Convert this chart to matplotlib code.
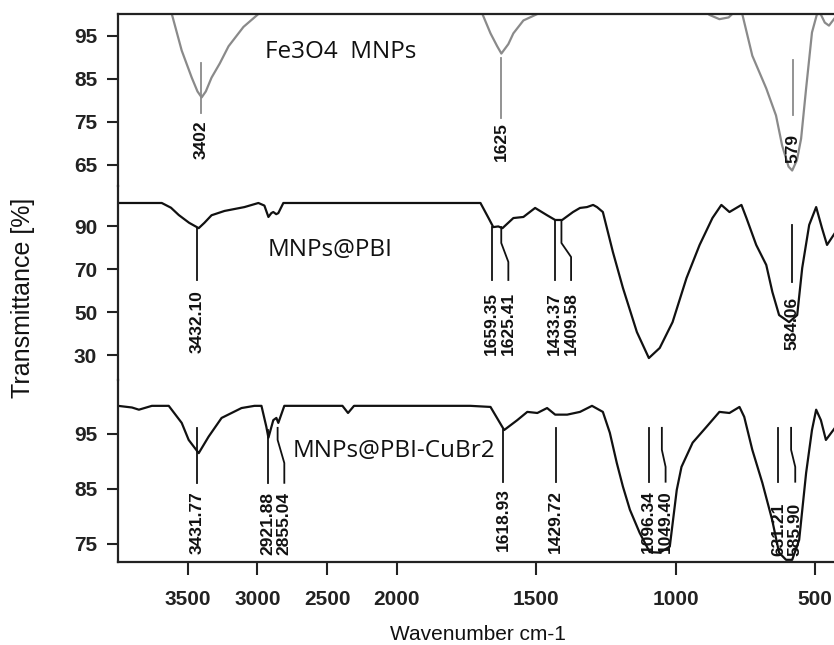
import numpy as np
import matplotlib
matplotlib.use("Agg")
import matplotlib.pyplot as plt

# ---------------- data ----------------
fe_wn = [4000, 3640, 3614, 3543, 3471, 3430, 3400, 3370, 3329, 3270, 3207, 3100, 2993, 2960,
         1720, 1693, 1664, 1640, 1625, 1600, 1582, 1546, 1496, 1470,
         900, 879, 843, 810, 797, 775, 761, 725, 675, 640, 618, 595, 582, 565, 550, 532, 511,
         493, 480, 465, 450, 430]
fe_t = [101, 101, 100, 91.5, 85.2, 82, 80.6, 82, 85.2, 88.5, 92.5, 97, 100, 101,
        101, 100, 95.5, 92.5, 90.8, 93, 95.5, 98.5, 100, 101,
        101, 99.8, 98.8, 99.2, 100, 101, 100, 90.3, 82.7, 76.4, 69.4, 64.5, 63.6, 66, 71, 82.7, 95.7,
        100, 100, 98, 97.3, 99]

pbi_wn = [4000, 3686, 3620, 3564, 3490, 3421, 3380, 3329, 3236, 3093, 2993, 2950, 2921, 2900,
          2886, 2865, 2850, 2814, 1700, 1671, 1654, 1636, 1621, 1582, 1546, 1504, 1461, 1432,
          1407, 1368, 1343, 1318, 1296, 1282, 1261, 1225, 1189, 1139, 1096, 1057, 1011, 961,
          914, 868, 836, 807, 764, 746, 711, 675, 653, 629, 593, 564, 546, 521, 496, 475, 457, 430]
pbi_t = [100.7, 100.7, 98.5, 95.1, 91.5, 89, 91.5, 95, 97, 98.8, 100.7, 99.5, 94.2, 96,
         96.5, 95.5, 96, 100.7, 100.7, 93.7, 89.5, 89.8, 89, 93.7, 94.2, 98.4, 95, 92.8,
         92.8, 96.5, 98.4, 98.8, 99.8, 98.8, 96.5, 77.9, 61.2, 40.7, 28.6, 33.3, 45.3, 65.8,
         81.2, 93.7, 99.8, 96.5, 99.8, 93.7, 81.2, 71.9, 59.3, 48.6, 45.3, 48.6, 70.5, 90.5,
         98.8, 89, 81.2, 86.5]

cu_wn = [4000, 3900, 3850, 3757, 3636, 3543, 3493, 3421, 3350, 3257, 3114, 3021, 2971, 2936,
         2921, 2886, 2864, 2850, 2807, 2390, 2350, 2307, 1736, 1664, 1636, 1615, 1568, 1532,
         1496, 1461, 1432, 1389, 1343, 1300, 1261, 1236, 1211, 1189, 1164, 1129, 1093, 1057,
         1021, 996, 979, 939, 889, 843, 807, 771, 754, 725, 689, 654, 629, 604, 582, 557, 532,
         511, 496, 479, 461, 430]
cu_t = [100.1, 99.8, 99.4, 100.1, 100.1, 97, 93.9, 91.5, 94.5, 97.9, 99.7, 100.1, 100.1, 96.3,
        94.3, 97.5, 97.9, 97, 100.1, 100.1, 98.8, 100.1, 100.1, 99.9, 97.5, 95.7, 97.5, 99,
        98.8, 99.7, 98.5, 98.5, 99, 100.1, 99, 95.2, 89.7, 85.4, 81.2, 77, 73.5, 73.4,
        74.5, 84.8, 89, 93.4, 96.3, 99, 98.8, 99.9, 98.1, 92.1, 86.1, 79.4, 73.4, 72.1, 72.1,
        75.7, 87.9, 95.7, 99.4, 97.5, 93.9, 96]

names = ["Fe3O4  MNPs", "MNPs@PBI", "MNPs@PBI-CuBr2"]

fe_peaks = [3402, 1625, 579]
fe_labels = ["3402", "1625", "579"]
pbi_peaks = [3432.10, 1659.35, 1625.41, 1433.37, 1409.58, 584.06]
pbi_labels = ["3432.10", "1659.35", "1625.41", "1433.37", "1409.58", "584.06"]
cu_peaks = [3431.77, 2921.88, 2855.04, 1618.93, 1429.72, 1096.34, 1049.40, 631.21, 585.90]
cu_labels = ["3431.77", "2921.88", "2855.04", "1618.93", "1429.72", "1096.34", "1049.40",
             "631.21", "585.90"]

xticks = [3500, 3000, 2500, 2000, 1500, 1000, 500]
fe_yticks = [95, 85, 75, 65]
pbi_yticks = [90, 70, 50, 30]
cu_yticks = [95, 85, 75]

# ---------------- layout ----------------
W_PX, H_PX = 834, 645
fig = plt.figure(figsize=(W_PX / 100, H_PX / 100), dpi=100)
L = 118 / W_PX


def axpos(top, bot):
    return [L, 1 - bot / H_PX, 1 - L, (bot - top) / H_PX]


def fwd(x):
    x = np.asarray(x, dtype=float)
    return np.where(x > 2000, 2000 + (x - 2000) / 2.0, x)


def inv(y):
    y = np.asarray(y, dtype=float)
    return np.where(y > 2000, 2000 + (y - 2000) * 2.0, y)


ax1 = fig.add_axes(axpos(14, 186))
ax2 = fig.add_axes(axpos(186, 380), sharex=ax1)
ax3 = fig.add_axes(axpos(380, 562), sharex=ax1)
axes = [ax1, ax2, ax3]

TICKFONT = dict(family="Liberation Sans", size=15, weight="bold")
SPINE_C = "#222222"
for ax in axes:
    ax.set_xscale("function", functions=(fwd, inv))
    ax.patch.set_alpha(0)
    for s in ax.spines.values():
        s.set_linewidth(1.6)
        s.set_color(SPINE_C)
    ax.spines["right"].set_visible(False)
    ax.tick_params(axis="y", direction="out", length=8, width=1.5, pad=7, colors=SPINE_C)
    ax.tick_params(axis="x", direction="out", length=9, width=1.5, pad=11, colors=SPINE_C)

ax1.spines["bottom"].set_visible(False)
ax2.spines["bottom"].set_visible(False)
ax2.spines["top"].set_visible(False)
ax3.spines["top"].set_visible(False)
ax1.tick_params(axis="x", bottom=False, labelbottom=False)
ax2.tick_params(axis="x", bottom=False, labelbottom=False)

ax3.set_xlim(4000, 432)
ax3.set_xticks(xticks)
ax3.set_xticklabels([str(t) for t in xticks], fontdict=TICKFONT)

ax1.set_ylim(60, 100)
ax2.set_ylim(18.4, 108.6)
ax3.set_ylim(71.7, 104.8)
ax1.set_yticks(fe_yticks)
ax2.set_yticks(pbi_yticks)
ax3.set_yticks(cu_yticks)
for ax, ticks in zip(axes, [fe_yticks, pbi_yticks, cu_yticks]):
    ax.set_yticklabels([str(t) for t in ticks], fontdict=TICKFONT)

GRAY = "#8a8a8a"
BLACK = "#111111"
ax1.plot(fe_wn, fe_t, color=GRAY, lw=1.6)
ax2.plot(pbi_wn, pbi_t, color=BLACK, lw=1.6)
ax3.plot(cu_wn, cu_t, color=BLACK, lw=1.6)

LABFONT = dict(family="Liberation Sans", size=12.5, weight="bold")


def mark(ax, peak, text, lab_x, y0, y1, ylab, color, kink=None):
    if kink is None:
        ax.plot([peak, peak], [y0, y1], color=color, lw=1.3)
    else:
        ya, yb = kink
        ax.plot([peak, peak, lab_x, lab_x], [y0, ya, yb, y1], color=color, lw=1.3)
    ax.text(lab_x, ylab, text, rotation=90, ha="center", va="top", color=BLACK, **LABFONT)


# top panel annotations
fe_geom = [(3402, 88.7, 76.9, 75.2), (1625, 89.7, 75.7, 74.8), (579, 89.2, 76.4, 72.2)]
for p, t, (lx, y0, y1, yl) in zip(fe_peaks, fe_labels, fe_geom):
    mark(ax1, p, t, lx, y0, y1, yl, GRAY)

# middle panel annotations
pbi_geom = [(3432.10, 89.1, 64.9, 60.2, None),
            (1659.35, 89.5, 64.9, 59.3, None),
            (1600, 89.5, 64.9, 59.3, (82.1, 73.3)),
            (1433.37, 92.8, 64.9, 59.3, None),
            (1375, 92.8, 64.9, 59.3, (82.1, 75.6)),
            (584.06, 90.5, 64.0, 57.0, None)]
for p, t, (lx, y0, y1, yl, k) in zip(pbi_peaks, pbi_labels, pbi_geom):
    mark(ax2, p, t, lx, y0, y1, yl, BLACK, kink=k)

# bottom panel annotations
cu_geom = [(3431.77, 96.1, 86.1, 84.5, None),
           (2921.88, 95.7, 86.1, 84.5, None),
           (2807, 96.1, 86.1, 84.5, (93.9, 89.7)),
           (1618.93, 95.7, 86.3, 85.2, None),
           (1429.72, 96.1, 86.3, 84.8, None),
           (1096.34, 96.1, 86.3, 84.8, None),
           (1036, 96.1, 86.3, 84.8, (92.1, 89.0)),
           (631.21, 96.1, 86.3, 82.5, None),
           (571, 96.1, 86.3, 82.5, (92.1, 89.0))]
for p, t, (lx, y0, y1, yl, k) in zip(cu_peaks, cu_labels, cu_geom):
    mark(ax3, p, t, lx, y0, y1, yl, BLACK, kink=k)

NAMEFONT = dict(family="Open Sans", size=17.5)
ax1.text((265 - 118) / (W_PX - 118), (186 - 52) / 172, names[0], transform=ax1.transAxes,
         ha="left", va="center", color=BLACK, **NAMEFONT)
ax2.text((268 - 118) / (W_PX - 118), (380 - 250) / 194, names[1], transform=ax2.transAxes,
         ha="left", va="center", color=BLACK, **NAMEFONT)
ax3.text((293 - 118) / (W_PX - 118), (562 - 451) / 182, names[2], transform=ax3.transAxes,
         ha="left", va="center", color=BLACK, **NAMEFONT)

fig.text(23 / W_PX, 1 - 298 / H_PX, "Transmittance [%]", rotation=90, ha="center",
         va="center", family="Liberation Sans", size=18, color=BLACK)
fig.text(478 / W_PX, 1 - 634 / H_PX, "Wavenumber cm-1", ha="center", va="center",
         family="Liberation Sans", size=15, color=BLACK)

fig.savefig("out.png", dpi=100)
